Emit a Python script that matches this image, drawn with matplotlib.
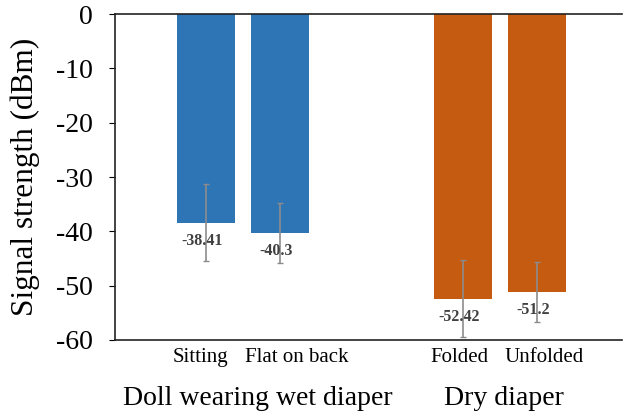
import matplotlib

matplotlib.use("Agg")
import matplotlib.pyplot as plt
import matplotlib.transforms as mtransforms

plt.rcParams["font.family"] = ["Liberation Serif", "DejaVu Serif"]
plt.rcParams["axes.unicode_minus"] = False

BLUE = "#2E75B6"
ORANGE = "#C55A11"

categories = ["Sitting", "Flat on back", "Folded", "Unfolded"]
groups = ["Doll wearing wet diaper", "Dry diaper"]
values = [-38.41, -40.3, -52.42, -51.2]
errors = [7.1, 5.5, 7.1, 5.5]
value_labels = ["-38.41", "-40.3", "-52.42", "-51.2"]
yticks = [0, -10, -20, -30, -40, -50, -60]

# layout: bar centres and where the category text sits
xpos = [0, 1, 3.47, 4.47]
label_x = [-0.07, 1.22, 3.43, 4.57]
colors = [BLUE, BLUE, ORANGE, ORANGE]

fig = plt.figure(figsize=(6.24, 4.17), dpi=100)
ax = fig.add_axes([0.184, 0.185, 0.813, 0.781])

ax.bar(xpos, values, width=0.78, color=colors, zorder=2)
ax.errorbar(xpos, values, yerr=errors, fmt="none", ecolor="#8c8c8c",
            elinewidth=1.2, capsize=2.5, capthick=1, zorder=3)

for x, v, s in zip(xpos, values, value_labels):
    ax.annotate(s, (x, v), xytext=(-3, -13), textcoords="offset points",
                ha="center", va="center", fontsize=11.5, fontweight="bold",
                color="#404040", zorder=4)

ax.set_ylim(-60, 0)
ax.set_xlim(-1.23, 5.62)
ax.set_yticks(yticks)
ax.set_yticklabels([str(t) for t in yticks], fontsize=20)
ax.set_xticks(label_x)
ax.set_xticklabels(categories, fontsize=15)
ax.tick_params(axis="x", length=0, pad=6)
ax.tick_params(axis="y", length=4, pad=12)
ax.set_ylabel("Signal strength (dBm)", fontsize=22.5, labelpad=11)

ax.spines["right"].set_visible(False)
for sp in ("top", "bottom", "left"):
    ax.spines[sp].set_color("#222222")
    ax.spines[sp].set_linewidth(1.2)

trans = mtransforms.blended_transform_factory(ax.transData, fig.transFigure)
ax.text((xpos[0] + xpos[1]) / 2 + 0.2, 0.045, groups[0], transform=trans,
        ha="center", va="center", fontsize=20)
ax.text((xpos[2] + xpos[3]) / 2 + 0.05, 0.045, groups[1], transform=trans,
        ha="center", va="center", fontsize=20)

fig.savefig("out.png", dpi=100)
